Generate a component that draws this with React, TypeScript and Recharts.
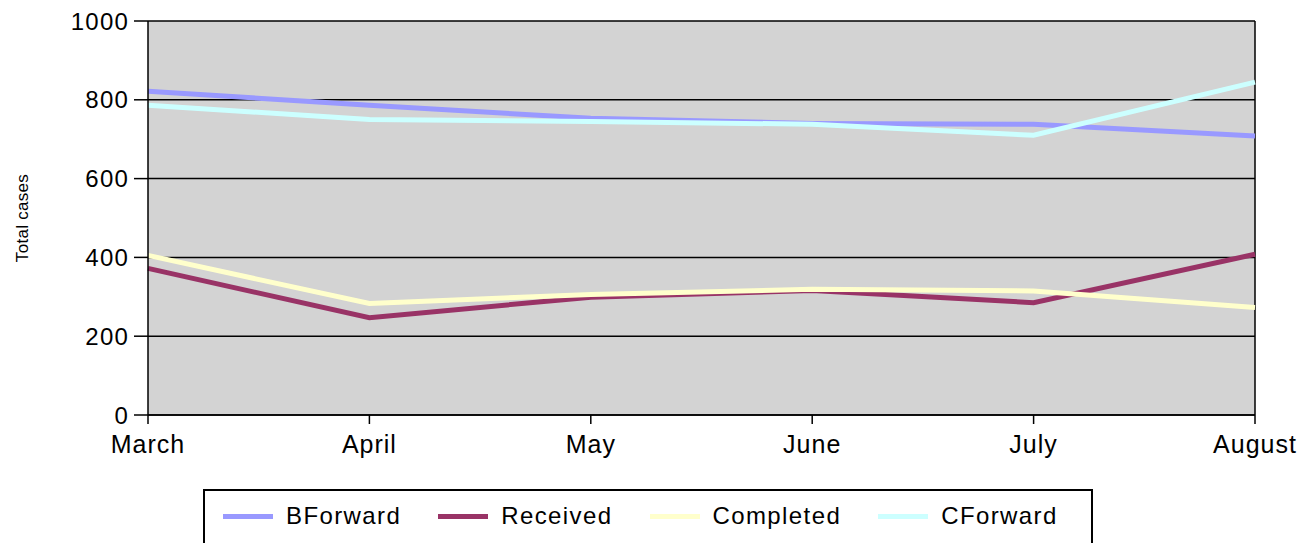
import { LineChart, Line, XAxis, YAxis, CartesianGrid, ReferenceLine } from 'recharts'

const MONTHS = ['March', 'April', 'May', 'June', 'July', 'August']
const BFORWARD = [822, 786, 753, 740, 738, 708]
const RECEIVED = [372, 247, 299, 316, 285, 408]
const COMPLETED = [405, 283, 306, 319, 315, 273]
const CFORWARD = [786, 750, 745, 738, 710, 845]
const Y_TICKS = [0, 200, 400, 600, 800, 1000]

const SERIES = [
  { key: 'BForward', values: BFORWARD, color: '#9999ff' },
  { key: 'Received', values: RECEIVED, color: '#993366' },
  { key: 'Completed', values: COMPLETED, color: '#ffffcc' },
  { key: 'CForward', values: CFORWARD, color: '#ccffff' },
]

const data = MONTHS.map((m, i) => {
  const row: Record<string, string | number> = { month: m }
  SERIES.forEach(s => { row[s.key] = s.values[i] })
  return row
})

const FONT = '"Liberation Sans", Arial, sans-serif'

export default function App() {
  return (
    <div style={{ position: 'absolute', left: 0, top: 0, width: 1303, height: 543, background: '#fff', fontFamily: FONT, overflow: 'hidden' }}>
      <LineChart width={1303} height={543} data={data} margin={{ top: 21, right: 48, bottom: 60, left: 0 }}>
        <CartesianGrid vertical={false} stroke="#000" strokeWidth={1.5} fill="#d3d3d3" fillOpacity={1} />
        <ReferenceLine x="August" stroke="#000" strokeWidth={1.5} />
        <XAxis
          dataKey="month"
          padding={{ left: 0, right: 0 }}
          stroke="#000"
          strokeWidth={1.5}
          tickSize={9}
          tickMargin={11}
          height={68}
          tick={{ fill: '#000', fontSize: 25, fontFamily: FONT, letterSpacing: 1 }}
          interval={0}
        />
        <YAxis
          domain={[0, 1000]}
          ticks={Y_TICKS}
          width={148}
          stroke="#000"
          strokeWidth={1.5}
          tickSize={14}
          tickMargin={5}
          tick={{ fill: '#000', fontSize: 24, fontFamily: FONT, letterSpacing: 1.2 }}
          label={{
            content: ({ viewBox }: any) => {
              const cy = viewBox.y + viewBox.height / 2
              return (
                <text x={22} y={cy} transform={`rotate(-90 22 ${cy})`} textAnchor="middle" dominantBaseline="central" fontSize={17} fill="#000" fontFamily={FONT} letterSpacing={0.3}>
                  Total cases
                </text>
              )
            },
          }}
        />
        {SERIES.map(s => (
          <Line key={s.key} type="linear" dataKey={s.key} stroke={s.color} strokeWidth={5} dot={false} activeDot={false} isAnimationActive={false} />
        ))}
      </LineChart>
      <div style={{ position: 'absolute', left: 203, top: 489, width: 890, height: 70, border: '2px solid #000', background: '#fff', display: 'flex', alignItems: 'flex-start', paddingTop: 11, paddingLeft: 18, gap: 37, boxSizing: 'border-box' }}>
        {SERIES.map(s => (
          <div key={s.key} style={{ display: 'flex', alignItems: 'center' }}>
            <span style={{ display: 'inline-block', width: 50, height: 5, background: s.color, marginRight: 13 }} />
            <span style={{ fontSize: 24, color: '#000', letterSpacing: 1.4 }}>{s.key}</span>
          </div>
        ))}
      </div>
    </div>
  )
}
